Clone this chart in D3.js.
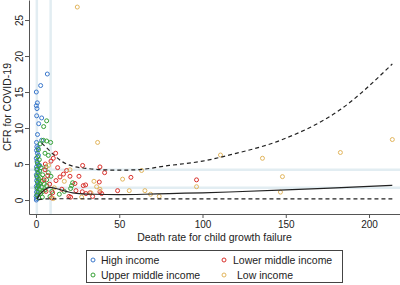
<!DOCTYPE html>
<html>
<head>
<meta charset="utf-8">
<script src="https://cdn.jsdelivr.net/npm/d3@7"></script>
<style>
  body { margin: 0; background: #fff; }
  svg { font-family: "Liberation Sans", Arial, sans-serif; }
</style>
</head>
<body>
<div id="chart"></div>
<script>
// income groups, [death rate, CFR]
const highIncome = [[6.8,17.5],[2.8,15.9],[0.2,15.0],[0.8,13.5],[0.2,13.1],[0.6,12.7],[0.4,11.7],[3.4,11.4],[1.6,10.6],[3.4,8.3],
  [0.5,7.4],[1.2,7.2],[0.3,6.9],[0.8,6.5],[1.5,6.2],[0.2,5.8],[0.6,5.4],[1.0,5.0],[0.3,4.6],[0.5,4.2],[1.2,3.9],[0.2,3.5],
  [0.7,3.1],[0.4,2.7],[1.0,2.3],[0.2,1.9],[0.6,1.5],[0.3,1.1],[0.8,0.8],[0.1,0.5],[0.5,0.2],[0.2,0.0],[1.8,2.0],[2.2,4.8],[0.9,9.1],[0.3,8.0]];
const upperMiddle = [[6.4,11.0],[4.6,10.2],[8.8,8.0],[4.4,8.3],[6.4,8.2],[2.5,7.8],[1.5,7.0],[5.4,6.5],[7.4,6.2],[1.0,6.0],[2.0,5.6],
  [0.8,5.2],[1.6,4.8],[3.0,4.5],[0.6,4.3],[2.2,4.0],[1.2,3.7],[4.0,3.5],[0.5,3.3],[2.8,3.1],[1.8,2.9],[6.4,2.8],[3.6,2.6],[0.9,2.5],
  [2.4,2.3],[5.0,2.2],[1.4,2.0],[6.4,2.0],[3.2,1.8],[0.7,1.7],[2.0,1.5],[5.4,1.4],[4.2,1.2],[1.2,1.1],[2.8,0.9],[8.4,0.5],[0.5,0.7],
  [3.8,0.4],[1.6,0.3],[9.5,1.2],[22.0,2.4],[21.4,2.0],[20.8,1.6],[17.0,1.2],[14.0,0.8],[7.4,3.8],[6.0,4.6],[9.0,3.3]];
const lowerMiddle = [[11.8,6.5],[10.4,5.8],[9.0,5.4],[5.6,5.0],[18.4,4.1],[28.0,4.8],[38.4,4.6],[41.2,3.8],[20.4,3.3],[14.4,3.2],
  [25.8,3.3],[23.4,2.3],[29.8,2.1],[28.4,2.0],[38.0,2.5],[32.4,1.0],[38.4,1.15],[49.0,1.3],[57.0,3.15],[96.4,2.8],[19.8,0.5],
  [27.8,1.15],[30.0,0.9],[39.4,0.9],[20.8,0.4],[5.4,4.2],[7.0,3.4],[12.0,2.7],[15.5,1.5],[10.0,1.0],[8.2,2.2],[13.0,4.5],[4.8,2.8],
  [6.0,1.2],[16.5,3.6],[24.0,1.3],[34.0,0.5],[9.4,0.3]];
const lowIncome = [[24.8,26.8],[37.0,8.0],[63.4,4.1],[52.0,2.9],[34.8,2.6],[36.4,1.85],[38.4,1.5],[56.0,1.3],[65.4,1.3],[33.0,1.0],
  [27.4,0.4],[110.8,6.25],[136.0,5.8],[68.8,0.8],[74.0,0.5],[96.4,1.85],[182.8,6.6],[214.0,8.4],[148.0,3.25],[146.8,1.1],
  [20.4,4.2],[10.4,0.2],[7.5,4.8],[17.0,2.6],[11.0,1.7]];

// fitted curve and its bounds
const fitLine = [[0.5,0.1],[1.5,0.5],[3.5,1.1],[6.4,1.6],[8.4,1.76],[12,1.6],[22,1.0],[35,0.8],[50,0.75],[65,0.8],[80,0.9],
  [100,1.0],[120,1.15],[150,1.4],[180,1.7],[214,2.05]];
const upperBound = [[3.4,7.9],[8,6.9],[12,6.0],[16,5.3],[22,4.7],[30,4.4],[40,4.2],[50,4.15],[60,4.2],[80,4.8],[100,5.4],
  [117,6.3],[148,8.4],[183,12.6],[214,18.9]];
const lowerBound = [[1.5,0.05],[5,0.15],[20,0.18],[50,0.15],[100,0.15],[150,0.15],[214,0.15]];

const refX = [0.5, 8.8];
const refY = [1.7, 4.2];
const xTicks = [0, 50, 100, 150, 200];
const yTicks = [0, 5, 10, 15, 20, 25];

const groups = [
  {name: 'High income', data: highIncome, color: '#3b78cc'},
  {name: 'Upper middle income', data: upperMiddle, color: '#35a035'},
  {name: 'Lower middle income', data: lowerMiddle, color: '#d9302b'},
  {name: 'Low income', data: lowIncome, color: '#e2b55c'}
];

let width = 400;
let height = 285;
let svg = d3.select('#chart').append('svg')
  .attr('width', width)
  .attr('height', height);

let x = d3.scaleLinear().domain([-4.2, 218.6]).range([29, 400]);
let y = d3.scaleLinear().domain([-1.94, 27.78]).range([214, 0]);

// light reference lines
svg.selectAll('.refx').data(refX).enter().append('line')
  .attr('x1', d => x(d)).attr('x2', d => x(d))
  .attr('y1', 0).attr('y2', 214)
  .attr('stroke', '#e2edf2').attr('stroke-width', 2.5);
svg.selectAll('.refy').data(refY).enter().append('line')
  .attr('x1', 29).attr('x2', 400)
  .attr('y1', d => y(d)).attr('y2', d => y(d))
  .attr('stroke', '#e2edf2').attr('stroke-width', 2.5);

// points
groups.forEach(g => {
  svg.append('g').selectAll('circle')
    .data(g.data).enter().append('circle')
    .attr('cx', d => x(d[0]))
    .attr('cy', d => y(d[1]))
    .attr('r', 2)
    .attr('fill', 'none')
    .attr('stroke', g.color)
    .attr('stroke-width', 1);
});

// curves
let line = d3.line().x(d => x(d[0])).y(d => y(d[1])).curve(d3.curveMonotoneX);
svg.append('path').attr('d', line(fitLine))
  .attr('fill', 'none').attr('stroke', '#222').attr('stroke-width', 1.2);
[upperBound, lowerBound].forEach(b => {
  svg.append('path').attr('d', line(b))
    .attr('fill', 'none').attr('stroke', '#222').attr('stroke-width', 1.2)
    .attr('stroke-dasharray', '4,3');
});

// axes
let xAxis = svg.append('g')
  .attr('transform', 'translate(0,214)')
  .call(d3.axisBottom(x).tickValues(xTicks).tickSize(4).tickSizeOuter(0));
let yAxis = svg.append('g')
  .attr('transform', 'translate(29,0)')
  .call(d3.axisLeft(y).tickValues(yTicks).tickSize(4).tickSizeOuter(0));
[xAxis, yAxis].forEach(a => {
  a.selectAll('path, line').attr('stroke', '#555');
  a.selectAll('text').attr('fill', '#222').style('font-size', '10px').style('font-family', '"Liberation Sans", Arial, sans-serif');
});
yAxis.selectAll('text')
  .attr('x', null).attr('dy', null)
  .attr('text-anchor', 'middle')
  .attr('transform', 'translate(-6.5,0) rotate(-90)');

svg.append('text')
  .attr('x', 214.5).attr('y', 241)
  .attr('text-anchor', 'middle')
  .style('font-size', '10.5px').attr('fill', '#222')
  .text('Death rate for child growth failure');
svg.append('text')
  .attr('transform', 'translate(11,107) rotate(-90)')
  .attr('text-anchor', 'middle')
  .style('font-size', '10.5px').attr('fill', '#222')
  .text('CFR for COVID-19');

// legend
let legend = svg.append('g');
legend.append('rect')
  .attr('x', 86.5).attr('y', 250.5).attr('width', 256).attr('height', 32)
  .attr('fill', '#fff').attr('stroke', '#444').attr('stroke-width', 1);
let legendPos = [[93, 260, 101], [93, 275, 101], [224, 260, 233], [224, 275, 237]];
groups.forEach((g, i) => {
  let p = legendPos[i];
  legend.append('circle').attr('cx', p[0]).attr('cy', p[1]).attr('r', 2)
    .attr('fill', 'none').attr('stroke', g.color);
  legend.append('text').attr('x', p[2]).attr('y', p[1] + 3.8)
    .style('font-size', '10.5px').attr('fill', '#222').text(g.name);
});
</script>
</body>
</html>
